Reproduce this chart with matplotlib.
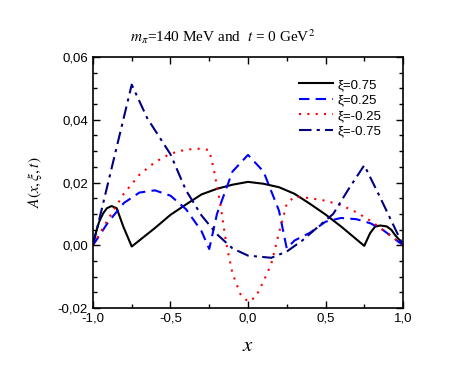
import matplotlib
matplotlib.use('Agg')
import matplotlib.pyplot as plt
from matplotlib.ticker import MultipleLocator, FuncFormatter

plt.rcParams['font.family'] = ['Liberation Sans', 'DejaVu Sans']
plt.rcParams['mathtext.fontset'] = 'stix'

# xi = 0.75
x_a = [-1.0, -0.99, -0.976, -0.96, -0.934, -0.91, -0.88, -0.847, -0.804, -0.75, -0.6, -0.5, -0.4,
       -0.3, -0.2, -0.1, 0.0, 0.1, 0.2, 0.3, 0.4, 0.5, 0.6, 0.75, 0.787, 0.819, 0.852, 0.895,
       0.925, 0.948, 0.975, 1.0]
y_a = [0.0, 0.0024, 0.0049, 0.0075, 0.0102, 0.0118, 0.0125, 0.0118, 0.0059, -0.0004, 0.0055, 0.0097,
       0.013, 0.0162, 0.018, 0.0193, 0.0202, 0.0196, 0.0185, 0.0164, 0.0132, 0.0098, 0.006, -0.0002,
       0.0038, 0.0059, 0.0063, 0.006, 0.0049, 0.0033, 0.0018, 0.0]

# xi = 0.25
x_b = [-1.0, -0.9, -0.8, -0.7, -0.6, -0.5, -0.4, -0.3, -0.25, -0.2, -0.1, 0.0, 0.1, 0.2, 0.25,
       0.3, 0.4, 0.5, 0.6, 0.7, 0.79, 0.87, 1.0]
y_b = [0.0, 0.0075, 0.0135, 0.0168, 0.0175, 0.0158, 0.0115, 0.0045, -0.0012, 0.010, 0.0235, 0.0288,
       0.0235, 0.011, -0.001, 0.0015, 0.004, 0.0075, 0.0087, 0.0083, 0.007, 0.0049, 0.0]

# xi = -0.25
x_c = [-1.0, -0.9, -0.8, -0.7, -0.6, -0.5, -0.4, -0.3, -0.25, -0.22, -0.18, -0.14, -0.1, -0.05,
       0.0, 0.05, 0.1, 0.15, 0.2, 0.25, 0.3, 0.4, 0.5, 0.6, 0.7, 0.8, 0.9, 1.0]
y_c = [0.0, 0.0085, 0.0165, 0.0225, 0.0265, 0.0292, 0.0305, 0.0308, 0.0303, 0.024, 0.0135, 0.0005,
       -0.009, -0.0155, -0.018, -0.0165, -0.0115, -0.006, 0.004, 0.0132, 0.0155, 0.015, 0.0142,
       0.0128, 0.0105, 0.0075, 0.0038, 0.0]

# xi = -0.75
x_d = [-1.0, -0.9, -0.75, -0.65, -0.5, -0.4, -0.3, -0.2, -0.1, 0.0, 0.15, 0.25, 0.35, 0.45, 0.55,
       0.65, 0.75, 0.85, 1.0]
y_d = [0.0, 0.0204, 0.0512, 0.0405, 0.029, 0.0175, 0.0095, 0.0035, -0.001, -0.0033, -0.004, -0.002,
       0.0015, 0.0058, 0.010, 0.018, 0.0255, 0.0155, 0.0]

labels = ['ξ=0.75', 'ξ=0.25', 'ξ=-0.25', 'ξ=-0.75']

fig = plt.figure(figsize=(4.54, 3.82), dpi=100)
ax = fig.add_axes([0.2048, 0.1937, 0.6829, 0.6571])

ax.plot(x_a, y_a, color='black', lw=1.5, ls='-', label=labels[0])
ax.plot(x_b, y_b, color='#0000ff', lw=1.5, ls=(0, (5, 3)), label=labels[1])
ax.plot(x_c, y_c, color='#ff0000', lw=1.5, ls=(0, (1, 3)), label=labels[2])
ax.plot(x_d, y_d, color='#000080', lw=1.5, ls=(0, (6, 2.5, 1.5, 2.5)), label=labels[3])

ax.set_xlim(-1.0, 1.0)
ax.set_ylim(-0.02, 0.06)
ax.xaxis.set_major_locator(MultipleLocator(0.5))
ax.xaxis.set_minor_locator(MultipleLocator(0.25))
ax.yaxis.set_major_locator(MultipleLocator(0.02))
ax.yaxis.set_minor_locator(MultipleLocator(0.005))
ax.xaxis.set_major_formatter(FuncFormatter(lambda v, p: ('%.1f' % v).replace('.', ',')))
ax.yaxis.set_major_formatter(FuncFormatter(lambda v, p: ('%.2f' % v).replace('.', ',')))
ax.tick_params(which='both', direction='in', top=True, right=True, labelsize=9.5, width=1.0)
ax.tick_params(which='major', length=5)
ax.tick_params(which='minor', length=3)
for s in ax.spines.values():
    s.set_linewidth(1.2)

ax.set_xlabel('$x$', fontsize=15, labelpad=8)
ax.set_ylabel('$A(x,\\xi,t)$', fontsize=11, labelpad=10)

fig.text(0.49, 0.905, '$m_{\\pi}$=140 MeV and  $t$ = 0 GeV$^2$', ha='center', va='center',
         fontsize=11, family='Liberation Serif')

ax.legend(loc='upper right', frameon=False, fontsize=9.5, handlelength=2.6, handletextpad=0.3,
          labelspacing=0.25, borderaxespad=1.25)

plt.savefig('out.png', dpi=100)
